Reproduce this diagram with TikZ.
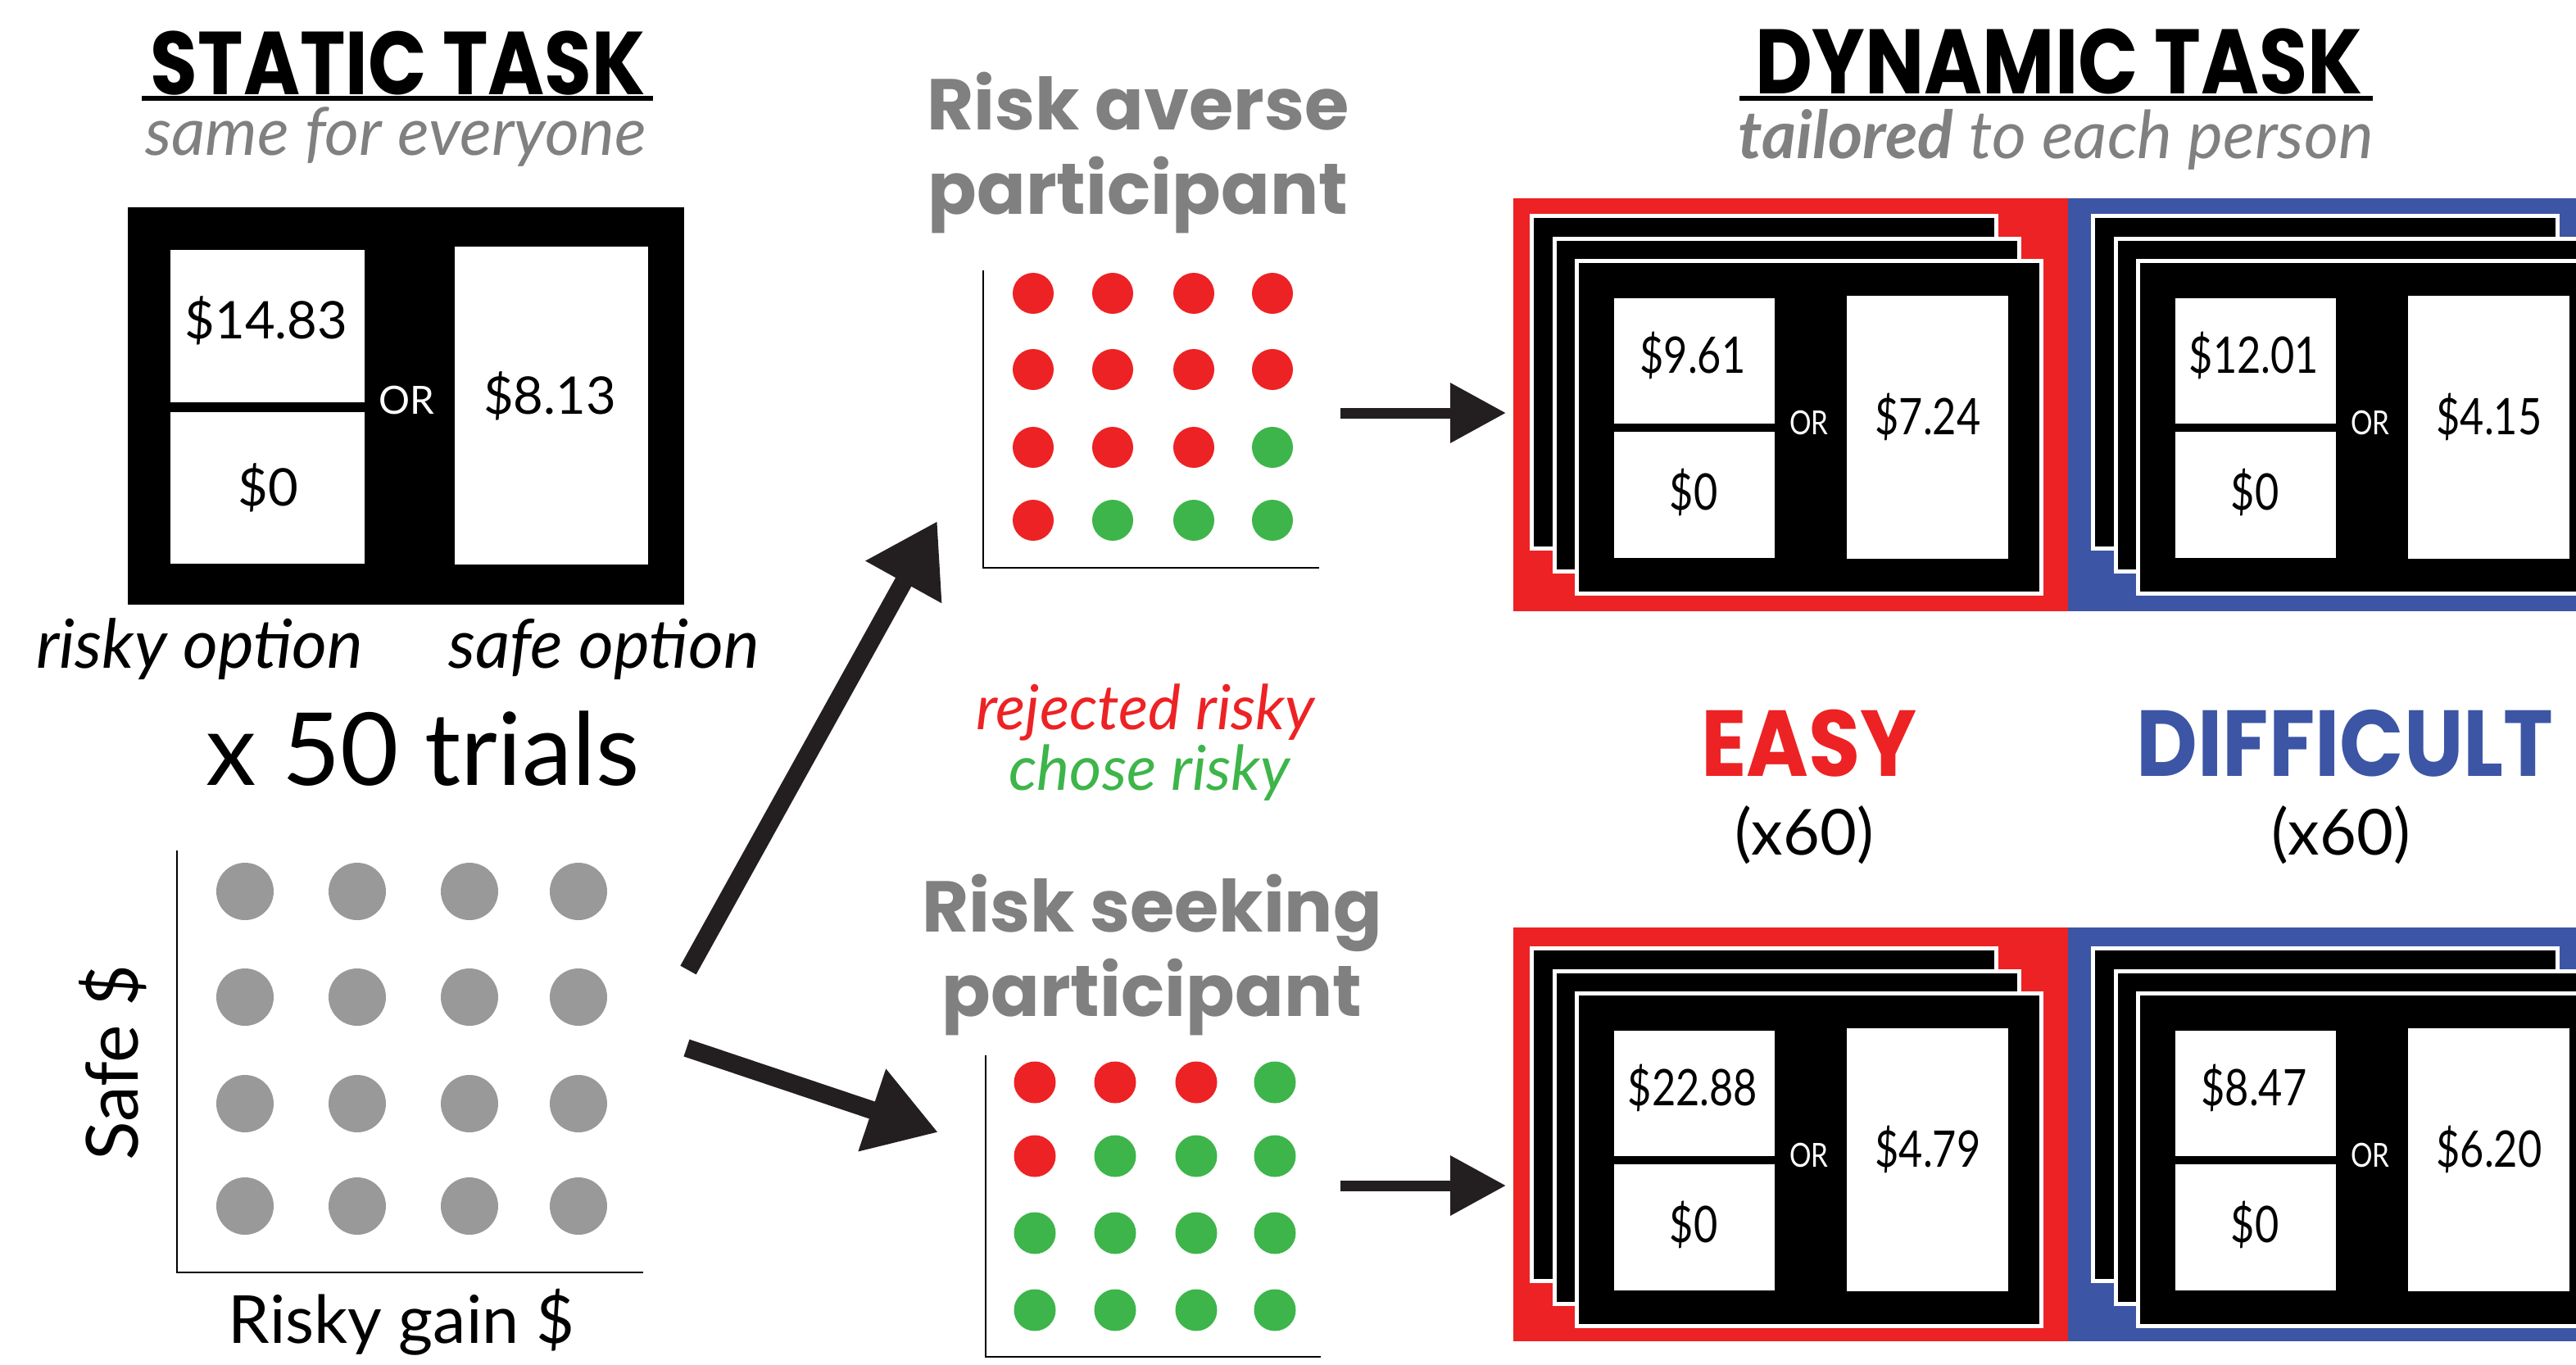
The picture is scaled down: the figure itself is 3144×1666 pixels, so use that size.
\documentclass[tikz,border=0pt]{standalone}
\usepackage{fontspec}
\usetikzlibrary{arrows.meta}
\setmainfont{Lato}
\newfontfamily\popfont{Poppins}
\newfontfamily\titlefont[FakeStretch=0.86]{Poppins}
\newfontfamily\levelfont[FakeStretch=0.9]{Poppins}
\newfontfamily\condfont[FakeStretch=0.82]{Lato}
\definecolor{myred}{HTML}{ED2224}
\definecolor{myblue}{HTML}{3C55A5}
\definecolor{mygreen}{HTML}{3DB54A}
\definecolor{dotgray}{HTML}{999999}
\definecolor{txtgray}{HTML}{808080}
\definecolor{arrowblack}{HTML}{231F20}
\tikzset{
  txt/.style={anchor=base,inner sep=0pt,outer sep=0pt},
  bigtitle/.style={txt,text depth=0pt,font=\titlefont\bfseries\fontsize{31}{31}\selectfont},
  subtitle/.style={txt,text=txtgray,font=\itshape\fontsize{23}{23}\selectfont},
  money/.style={txt,font=\fontsize{18}{18}\selectfont},
  orlabel/.style={txt,font=\fontsize{13.5}{13.5}\selectfont},
  cardmoney/.style={txt,font=\condfont\fontsize{17.5}{17.5}\selectfont},
  cardor/.style={txt,font=\condfont\fontsize{11.5}{11.5}\selectfont},
  optlabel/.style={txt,font=\itshape\fontsize{23.5}{23.5}\selectfont},
  partlabel/.style={txt,text=txtgray,font=\popfont\bfseries\fontsize{25}{25}\selectfont},
  legend/.style={txt,font=\itshape\fontsize{21.5}{21.5}\selectfont},
  axislabel/.style={txt,font=\fontsize{23}{23}\selectfont},
  levellabel/.style={txt,text depth=0pt,font=\levelfont\bfseries\fontsize{32.5}{32.5}\selectfont},
  countlabel/.style={txt,font=\fontsize{22}{22}\selectfont},
  axisline/.style={draw=black,line width=0.7pt},
  flowarrow/.style={draw=arrowblack,line width=6.26pt,-{Triangle[length=24.2pt,width=28.5pt]}},
  cardarrow/.style={draw=arrowblack,line width=3.7pt,-{Triangle[length=19.3pt,width=19.9pt]}},
  ulineblack/.style={draw=black,line width=1.45pt}
}
% #1 name prefix, #2 x, #3 y (top-left of back card), #4 top amount, #5 safe amount
\newcommand{\cardstack}[5]{%
  \begin{scope}[shift={(#2,#3)}]
    \foreach \o in {0,27.5,55}{
      \fill[white] (\o,\o) rectangle ++(572,411);
      \fill[black] (\o+5,\o+5) rectangle ++(562,401);
    }
    \fill[white] (103,103) rectangle (299,256);
    \fill[white] (103,266) rectangle (299,420);
    \fill[white] (387,100) rectangle (584,421);
    \node[cardmoney] (#1top) at (199,194) {#4};
    \node[cardmoney] (#1zero) at (200,361) {\$0};
    \node[cardor,text=white] (#1or) at (341,269) {OR};
    \node[cardmoney] (#1safe) at (486,269) {#5};
  \end{scope}}
\begin{document}
\begin{tikzpicture}[x=0.01cm,y=-0.01cm]
\useasboundingbox (0,0) rectangle (3144,1666);
\clip (0,0) rectangle (3144,1666);
\fill[white] (0,0) rectangle (3144,1666);

% ---------- STATIC TASK ----------
\node[bigtitle] (stitle) at (486,115) {STATIC TASK};
\draw[ulineblack] (173,120) -- (797,120);
\node[subtitle] (ssub) at (483,189) {same for everyone};

\fill[black] (156,253) rectangle (835,738);
\fill[white] (208,305) rectangle (445,491);
\fill[white] (208,503) rectangle (445,688);
\fill[white] (555,301) rectangle (791,689);
\node[money] (stop) at (325,413) {\$14.83};
\node[money] (szero) at (327,617) {\$0};
\node[money] (ssafe) at (671,505) {\$8.13};
\node[orlabel,text=white] (sor) at (496,505) {OR};
\node[optlabel] (risky) at (244,815) {risky option};
\node[optlabel] (safe) at (737,815) {safe option};
\node[txt,font=\fontsize{35}{35}\selectfont] (trials) at (516,958) {x 50 trials};

% static scatter
\draw[axisline] (216,1038) -- (216,1553) -- (785,1553);
\foreach \x in {299,436,573,706}
  \foreach \y in {1088,1217,1347,1472}
    \fill[dotgray] (\x,\y) circle[radius=35];
\node[axislabel,anchor=center,rotate=90,font=\fontsize{25}{25}\selectfont] (safey) at (138,1297) {Safe \$};
\node[axislabel] (riskyx) at (490,1639) {Risky gain \$};

% ---------- participants ----------
\node[partlabel] (avt1) at (1389,158) {Risk averse};
\node[partlabel] (avt2) at (1389,261) {participant};
\draw[axisline] (1200,330) -- (1200,693) -- (1610,693);
\foreach \x/\y/\c in {
 1261/358/myred,1358/358/myred,1457/358/myred,1553/358/myred,
 1261/451/myred,1358/451/myred,1457/451/myred,1553/451/myred,
 1261/546/myred,1358/546/myred,1457/546/myred,1553/546/mygreen,
 1261/635/myred,1358/635/mygreen,1457/635/mygreen,1553/635/mygreen}
  \fill[\c] (\x,\y) circle[radius=25];

\node[legend,text=myred] (rej) at (1398,890) {rejected risky};
\node[legend,text=mygreen] (cho) at (1403,964) {chose risky};

\node[partlabel] (skt1) at (1406,1137) {Risk seeking};
\node[partlabel] (skt2) at (1406,1240) {participant};
\draw[axisline] (1203,1288) -- (1203,1656) -- (1612,1656);
\foreach \x/\y/\c in {
 1263/1321/myred,1361/1321/myred,1460/1321/myred,1556/1321/mygreen,
 1263/1411/myred,1361/1411/mygreen,1460/1411/mygreen,1556/1411/mygreen,
 1263/1505/mygreen,1361/1505/mygreen,1460/1505/mygreen,1556/1505/mygreen,
 1263/1599/mygreen,1361/1599/mygreen,1460/1599/mygreen,1556/1599/mygreen}
  \fill[\c] (\x,\y) circle[radius=25.5];

% arrows
\coordinate (a1tail) at (840,1184);
\coordinate (a1tip) at (1144,636);
\coordinate (a2tail) at (838,1279);
\coordinate (a2tip) at (1145,1382);
\draw[flowarrow] (a1tail) -- (a1tip);
\draw[flowarrow] (a2tail) -- (a2tip);
\coordinate (a3tail) at (1636,504);
\coordinate (a3tip) at (1838,504);
\coordinate (a4tail) at (1636,1447);
\coordinate (a4tip) at (1838,1447);
\draw[cardarrow] (a3tail) -- (a3tip);
\draw[cardarrow] (a4tail) -- (a4tip);

% ---------- DYNAMIC TASK ----------
\node[bigtitle,font=\titlefont\bfseries\fontsize{31.8}{31.8}\selectfont] (dtitle) at (2513,114) {DYNAMIC TASK};
\draw[ulineblack] (2123,120) -- (2896,120);
\node[subtitle] (dsub) at (2509,193) {{\bfseries\itshape tailored} {\itshape to each person}};

\fill[myred] (1847,242) rectangle (2524,746);
\fill[myblue] (2524,242) rectangle (3144,746);
\fill[myred] (1847,1132) rectangle (2524,1637);
\fill[myblue] (2524,1132) rectangle (3144,1637);

\cardstack{ea}{1867}{261}{\$9.61}{\$7.24}
\cardstack{da}{2552}{261}{\$12.01}{\$4.15}
\cardstack{eb}{1867}{1155}{\$22.88}{\$4.79}
\cardstack{db}{2552}{1155}{\$8.47}{\$6.20}

\node[levellabel,text=myred] (easy) at (2208,947) {EASY};
\node[levellabel,text=myblue] (diff) at (2862,947) {DIFFICULT};
\node[countlabel] (easyn) at (2202,1043) {(x60)};
\node[countlabel] (diffn) at (2857,1043) {(x60)};
\end{tikzpicture}
\end{document}
